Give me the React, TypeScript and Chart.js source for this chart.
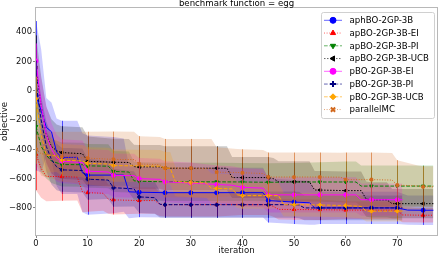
import React, { useEffect, useRef } from "react";
import { Chart, registerables } from "chart.js";
import { drawPoint } from "chart.js/helpers";

Chart.register(...registerables);

const TITLE = "benchmark function = egg";
const X_LABEL = "iteration";
const Y_LABEL = "objective";
const X_TICKS = [0, 10, 20, 30, 40, 50, 60, 70];
const Y_TICKS = [-800, -600, -400, -200, 0, 200, 400];

const SERIES_NAMES = [
  "aphBO-2GP-3B",
  "apBO-2GP-3B-EI",
  "apBO-2GP-3B-PI",
  "apBO-2GP-3B-UCB",
  "pBO-2GP-3B-EI",
  "pBO-2GP-3B-PI",
  "pBO-2GP-3B-UCB",
  "parallelMC",
];

// aphBO-2GP-3B
const aphX = [0, 1, 2, 3, 4, 5, 8, 9, 10, 15, 17, 18, 20, 25, 30, 35, 40, 44, 45, 50, 53, 54, 55, 60, 65, 70, 72, 75, 77];
const aphMean = [-34, -136, -250, -280, -420, -455, -455, -560, -576, -576, -576, -690, -693, -696, -696, -696, -696, -696, -750, -760, -765, -800, -800, -800, -800, -800, -815, -816, -816];
const aphSd = [510, 420, 200, 200, 230, 250, 250, 270, 270, 260, 250, 180, 170, 170, 170, 170, 170, 170, 150, 150, 150, 115, 110, 110, 110, 110, 100, 100, 100];

// apBO-2GP-3B-EI
const apEiX = [0, 1, 2, 5, 8, 9, 10, 13, 14, 15, 20, 23, 24, 25, 30, 35, 40, 45, 46, 47, 50, 55, 60, 65, 70, 71, 75, 77];
const apEiMean = [-434, -530, -585, -586, -590, -690, -696, -700, -740, -745, -750, -750, -775, -778, -778, -778, -778, -778, -790, -810, -811, -812, -815, -816, -816, -848, -850, -850];
const apEiSd = [245, 200, 170, 165, 160, 140, 130, 120, 100, 100, 90, 90, 80, 80, 80, 80, 70, 70, 70, 70, 70, 70, 60, 60, 60, 50, 50, 50];

// apBO-2GP-3B-PI
const apPiX = [0, 1, 2, 3, 5, 9, 10, 14, 15, 18, 19, 20, 25, 30, 35, 40, 45, 50, 55, 60, 62, 63, 65, 70, 75, 77];
const apPiMean = [-244, -380, -440, -480, -504, -505, -513, -515, -551, -555, -615, -618, -622, -622, -622, -623, -625, -623, -623, -623, -623, -651, -651, -651, -651, -651];
const apPiSd = [200, 180, 160, 150, 150, 150, 150, 150, 140, 140, 130, 130, 130, 130, 130, 130, 130, 130, 135, 140, 140, 140, 140, 140, 140, 140];

// apBO-2GP-3B-UCB
const apUcbX = [0, 1, 2, 3, 4, 5, 9, 10, 15, 18, 19, 20, 24, 25, 30, 35, 37, 38, 40, 45, 46, 47, 50, 53, 54, 55, 60, 63, 64, 65, 68, 69, 70, 75, 77];
const apUcbMean = [158, -100, -300, -380, -410, -422, -430, -482, -488, -490, -518, -520, -520, -529, -529, -529, -529, -593, -593, -593, -600, -622, -622, -622, -678, -678, -682, -682, -740, -745, -745, -771, -771, -771, -771];
const apUcbSd = [220, 200, 190, 185, 180, 180, 180, 170, 160, 160, 150, 150, 150, 150, 150, 150, 150, 140, 140, 140, 140, 140, 140, 140, 130, 130, 130, 130, 120, 120, 120, 100, 100, 100, 100];

// pBO-2GP-3B-EI
const pEiX = [0, 1, 2, 3, 4, 5, 9, 10, 14, 15, 19, 20, 24, 25, 30, 35, 38, 40, 44, 45, 50, 55, 60, 62, 63, 65, 70, 71];
const pEiMean = [203, -100, -300, -400, -460, -482, -490, -549, -555, -578, -580, -600, -605, -622, -630, -640, -645, -660, -665, -711, -711, -711, -711, -711, -744, -744, -744, -744];
const pEiSd = [120, 180, 200, 180, 160, 150, 150, 150, 150, 150, 150, 140, 140, 140, 140, 130, 130, 130, 130, 120, 120, 120, 120, 120, 110, 110, 110, 110];

// pBO-2GP-3B-PI
const pPiX = [0, 1, 2, 3, 4, 5, 9, 10, 14, 15, 19, 20, 23, 24, 25, 30, 35, 40, 45, 50, 51, 52, 55, 60, 65, 70, 71];
const pPiMean = [56, -200, -380, -470, -520, -540, -545, -604, -610, -662, -670, -725, -730, -775, -778, -778, -778, -778, -778, -778, -780, -800, -800, -800, -800, -800, -800];
const pPiSd = [150, 160, 170, 170, 160, 150, 150, 140, 130, 130, 120, 110, 110, 90, 90, 90, 90, 90, 90, 90, 90, 85, 85, 85, 85, 85, 85];

// pBO-2GP-3B-UCB
const pUcbX = [0, 1, 2, 4, 5, 9, 10, 14, 15, 24, 25, 26, 27, 30, 33, 34, 35, 38, 39, 40, 45, 47, 48, 50, 55, 60, 63, 64, 65, 70, 71];
const pUcbMean = [-54, -300, -440, -445, -473, -480, -496, -500, -511, -515, -529, -529, -620, -627, -630, -667, -667, -670, -711, -716, -716, -716, -778, -778, -780, -784, -790, -822, -822, -822, -822];
const pUcbSd = [150, 150, 120, 110, 110, 110, 110, 110, 110, 110, 110, 110, 100, 100, 100, 100, 100, 100, 90, 90, 90, 90, 80, 80, 80, 80, 80, 70, 70, 70, 70];

// parallelMC
const mcX = [0, 1, 5, 10, 15, 19, 20, 24, 25, 30, 34, 35, 39, 40, 44, 45, 50, 55, 59, 60, 65, 69, 70, 74, 75, 77];
const mcMean = [-400, -430, -450, -460, -469, -470, -500, -505, -529, -529, -530, -556, -558, -560, -565, -589, -589, -589, -590, -607, -607, -610, -644, -650, -656, -656];
const mcSd = [100, 150, 170, 180, 190, 190, 190, 190, 200, 200, 200, 170, 160, 160, 160, 167, 167, 167, 167, 185, 185, 185, 170, 140, 140, 140];

const SERIES_X = [aphX, apEiX, apPiX, apUcbX, pEiX, pPiX, pUcbX, mcX];
const SERIES_MEAN = [aphMean, apEiMean, apPiMean, apUcbMean, pEiMean, pPiMean, pUcbMean, mcMean];
const SERIES_SD = [aphSd, apEiSd, apPiSd, apUcbSd, pEiSd, pPiSd, pUcbSd, mcSd];

// styles
const COLORS = ["#0000ff", "#ff0000", "#008000", "#000000", "#ff00ff", "#000080", "#ffa500", "#d2691e"];
const BAND_COLORS = [
  "rgba(0,0,255,0.2)",
  "rgba(255,0,0,0.2)",
  "rgba(0,128,0,0.2)",
  "rgba(0,0,0,0.2)",
  "rgba(255,0,255,0.2)",
  "rgba(0,0,128,0.2)",
  "rgba(255,165,0,0.2)",
  "rgba(210,105,30,0.2)",
];
const DASHES: number[][] = [[], [1, 1.6], [3.7, 1.6], [1.5, 1.5], [], [3.7, 1.6], [3.7, 1.6], [1, 1.6]];
const MARKERS = ["circle", "triangle", "triangle", "triangle", "circle", "cross", "rectRot", "crossRot"];
const ROTATIONS = [0, 0, 180, -90, 0, 0, 0, 0];
const MARKER_BORDER = [1, 1, 1, 1, 1, 2, 1, 2];

const FONT = "DejaVu Sans";

const fmt = (v: number) => (v < 0 ? "\u2212" + Math.abs(v) : String(v));

const errorBarPlugin = {
  id: "errorBars",
  beforeDatasetDraw(chart: any, args: any) {
    const ds: any = chart.data.datasets[args.index];
    if (!ds.errSd) return;
    const ctx = chart.ctx;
    const xs = chart.scales.x;
    const ys = chart.scales.y;
    const area = chart.chartArea;
    ctx.save();
    ctx.beginPath();
    ctx.rect(area.left, area.top, area.right - area.left, area.bottom - area.top);
    ctx.clip();
    ctx.strokeStyle = ds.borderColor;
    ctx.globalAlpha = 0.7;
    ctx.lineWidth = 0.9;
    ctx.setLineDash([]);
    ds.data.forEach((p: any, k: number) => {
      if (p.x % 5 !== 0) return;
      const px = Math.round(xs.getPixelForValue(p.x)) + 0.5;
      ctx.beginPath();
      ctx.moveTo(px, ys.getPixelForValue(p.y - ds.errSd[k]));
      ctx.lineTo(px, ys.getPixelForValue(p.y + ds.errSd[k]));
      ctx.stroke();
    });
    ctx.restore();
  },
};

const framePlugin = {
  id: "frameTitleLegend",
  afterDraw(chart: any) {
    const ctx = chart.ctx;
    const a = chart.chartArea;
    ctx.save();
    // frame
    ctx.strokeStyle = "#b8b8b8";
    ctx.lineWidth = 1;
    ctx.setLineDash([]);
    ctx.strokeRect(Math.round(a.left) - 0.5, Math.round(a.top) - 0.5, Math.round(a.right - a.left) + 1, Math.round(a.bottom - a.top) + 1);
    // title
    ctx.fillStyle = "#000";
    ctx.font = `8.6px "${FONT}"`;
    ctx.textAlign = "center";
    ctx.textBaseline = "middle";
    ctx.fillText(TITLE, (a.left + a.right) / 2, 4);
    // legend
    const bw = 113;
    const bh = 106;
    const bx = a.right - 3 - bw;
    const by = a.top + 4;
    ctx.fillStyle = "rgba(255,255,255,0.85)";
    ctx.strokeStyle = "#d0d0d0";
    ctx.beginPath();
    if (ctx.roundRect) ctx.roundRect(bx + 0.5, by + 0.5, bw, bh, 2);
    else ctx.rect(bx + 0.5, by + 0.5, bw, bh);
    ctx.fill();
    ctx.stroke();
    SERIES_NAMES.forEach((name, i) => {
      const y = by + 8.3 + i * 12.75;
      ctx.strokeStyle = COLORS[i];
      ctx.globalAlpha = 0.6;
      ctx.lineWidth = 1;
      ctx.setLineDash(DASHES[i]);
      ctx.beginPath();
      ctx.moveTo(bx + 3, y);
      ctx.lineTo(bx + 21, y);
      ctx.stroke();
      ctx.globalAlpha = 1;
      ctx.setLineDash([]);
      ctx.fillStyle = COLORS[i];
      ctx.strokeStyle = COLORS[i];
      ctx.lineWidth = MARKER_BORDER[i];
      drawPoint(ctx, { pointStyle: MARKERS[i] as any, rotation: ROTATIONS[i], radius: 3, borderWidth: MARKER_BORDER[i] } as any, bx + 12, y);
      ctx.fillStyle = "#000";
      ctx.font = `8.6px "${FONT}"`;
      ctx.textAlign = "left";
      ctx.textBaseline = "middle";
      ctx.fillText(name, bx + 28.5, y + 0.5);
    });
    ctx.restore();
  },
};

export default function App() {
  const ref = useRef<HTMLCanvasElement | null>(null);
  useEffect(() => {
    if (!ref.current) return;
    Chart.defaults.font.family = FONT;
    const n = SERIES_NAMES.length;
    const datasets: any[] = [];
    for (let s = 0; s < n; s++) {
      const xs = SERIES_X[s];
      datasets.push({
        label: SERIES_NAMES[s],
        data: xs.map((x, k) => ({ x, y: SERIES_MEAN[s][k] })),
        errSd: SERIES_SD[s],
        borderColor: COLORS[s],
        backgroundColor: COLORS[s],
        borderWidth: 1,
        borderDash: DASHES[s],
        pointStyle: MARKERS[s],
        pointRotation: ROTATIONS[s],
        pointBorderWidth: MARKER_BORDER[s],
        pointRadius: (c: any) => (c.raw && c.raw.x % 5 === 0 ? 2 : 0),
        pointHoverRadius: 0,
        fill: false,
        tension: 0,
        order: n - s,
      });
    }
    for (let s = 0; s < n; s++) {
      const xs = SERIES_X[s];
      const lowerIndex = n + 2 * s + 1;
      datasets.push({
        label: SERIES_NAMES[s] + " upper",
        data: xs.map((x, k) => ({ x, y: SERIES_MEAN[s][k] + SERIES_SD[s][k] })),
        borderWidth: 0,
        borderColor: "rgba(0,0,0,0)",
        backgroundColor: BAND_COLORS[s],
        pointRadius: 0,
        fill: { target: lowerIndex },
        tension: 0,
        order: 100 + n - s,
      });
      datasets.push({
        label: SERIES_NAMES[s] + " lower",
        data: xs.map((x, k) => ({ x, y: SERIES_MEAN[s][k] - SERIES_SD[s][k] })),
        borderWidth: 0,
        borderColor: "rgba(0,0,0,0)",
        pointRadius: 0,
        fill: false,
        tension: 0,
        order: 100 + n - s,
      });
    }

    const chart = new Chart(ref.current, {
      type: "line",
      data: { datasets },
      options: {
        animation: false,
        responsive: false,
        events: [],
        layout: { padding: { top: 8, right: 1, left: 0, bottom: 0 } },
        plugins: {
          legend: { display: false },
          title: { display: false },
          tooltip: { enabled: false },
        },
        scales: {
          x: {
            type: "linear",
            min: 0,
            max: 77.7,
            afterBuildTicks: (sc: any) => {
              sc.ticks = X_TICKS.map((v) => ({ value: v }));
            },
            afterFit: (sc: any) => {
              sc.height = 21;
            },
            ticks: {
              autoSkip: false,
              maxRotation: 0,
              padding: 1,
              color: "#111",
              font: { size: 8.4, family: FONT },
              callback: (v: any) => fmt(Number(v)),
            },
            grid: { drawOnChartArea: false, drawTicks: true, tickLength: 3, color: "#888" },
            border: { display: false },
            title: {
              display: true,
              text: X_LABEL,
              color: "#111",
              font: { size: 8.6, family: FONT },
              padding: { top: 0, bottom: 0 },
            },
          },
          y: {
            type: "linear",
            min: -985,
            max: 565,
            afterBuildTicks: (sc: any) => {
              sc.ticks = Y_TICKS.map((v) => ({ value: v }));
            },
            afterFit: (sc: any) => {
              sc.width = 36;
            },
            ticks: {
              autoSkip: false,
              padding: 1,
              color: "#111",
              font: { size: 8.4, family: FONT },
              callback: (v: any) => fmt(Number(v)),
            },
            grid: { drawOnChartArea: false, drawTicks: true, tickLength: 3, color: "#888" },
            border: { display: false },
            title: {
              display: true,
              text: Y_LABEL,
              color: "#111",
              font: { size: 8.6, family: FONT },
              padding: { top: 0, bottom: 0 },
            },
          },
        },
      },
      plugins: [errorBarPlugin, framePlugin],
    } as any);
    return () => chart.destroy();
  }, []);
  return (
    <div style={{ position: "absolute", left: 0, top: 0, width: 441, height: 256, background: "#fff" }}>
      <canvas ref={ref} width={441} height={256} style={{ display: "block" }} />
    </div>
  );
}
